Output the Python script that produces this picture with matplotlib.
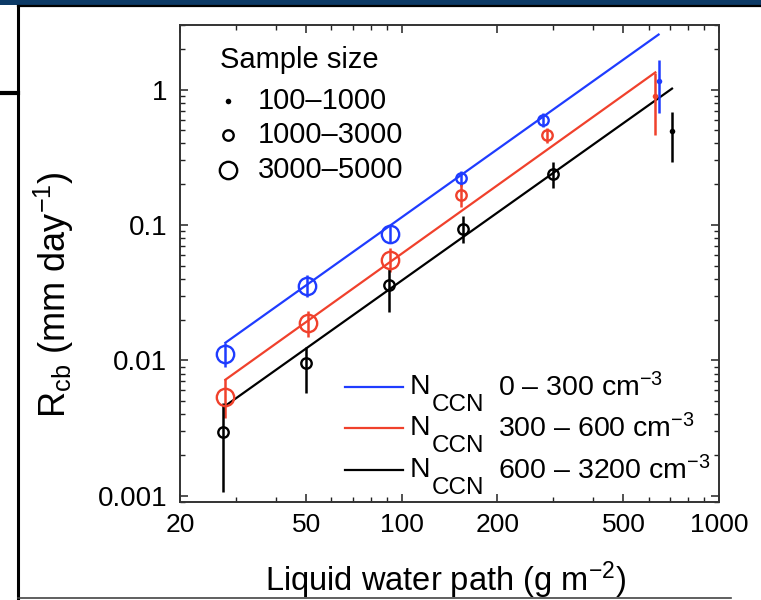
import matplotlib
matplotlib.use('Agg')
import matplotlib.pyplot as plt
from matplotlib.lines import Line2D
from matplotlib.patches import Rectangle

plt.rcParams['font.family'] = ['Liberation Sans', 'DejaVu Sans']
plt.rcParams['mathtext.fontset'] = 'custom'
plt.rcParams['mathtext.rm'] = 'Liberation Sans'
plt.rcParams['mathtext.it'] = 'Liberation Sans:italic'
plt.rcParams['mathtext.bf'] = 'Liberation Sans:bold'
plt.rcParams['mathtext.default'] = 'regular'

# ---------------- data ----------------
series_ranges = ['0 – 300', '300 – 600', '600 – 3200']
series_colors = ['#1f3cff', '#f0412c', '#000000']

# sample size class per point: 0 = 100-1000, 1 = 1000-3000, 2 = 3000-5000
blue_x = [27.8, 50.3, 92, 154, 279, 645]
blue_y = [0.0112, 0.0356, 0.0863, 0.224, 0.600, 1.166]
blue_lo = [0.0090, 0.0295, 0.0740, 0.195, 0.533, 0.676]
blue_hi = [0.0135, 0.0429, 0.1005, 0.252, 0.676, 1.667]
blue_cls = [2, 2, 2, 1, 1, 0]

red_x = [27.8, 50.5, 92, 154, 287, 630]
red_y = [0.00538, 0.0190, 0.0554, 0.1675, 0.465, 0.903]
red_lo = [0.00377, 0.0149, 0.0452, 0.1365, 0.406, 0.465]
red_hi = [0.00731, 0.0233, 0.0680, 0.2018, 0.524, 1.336]
red_cls = [2, 2, 2, 1, 1, 0]

black_x = [27.3, 50, 91, 156, 300, 711]
black_y = [0.00297, 0.0096, 0.0362, 0.0939, 0.239, 0.498]
black_lo = [0.00107, 0.00576, 0.0229, 0.0740, 0.189, 0.294]
black_hi = [0.00486, 0.0126, 0.0483, 0.1172, 0.294, 0.688]
black_cls = [1, 1, 1, 1, 1, 0]

# fitted power-law lines (end points)
blue_fit_x = [27.8, 645]
blue_fit_y = [0.0135, 2.55]
red_fit_x = [27.8, 630]
red_fit_y = [0.0072, 1.34]
black_fit_x = [27.8, 711]
black_fit_y = [0.00462, 1.017]

size_title = 'Sample size'
size_labels = ['100–1000', '1000–3000', '3000–5000']

x_ticks = [20, 50, 100, 200, 500, 1000]
x_ticklabels = ['20', '50', '100', '200', '500', '1000']
y_ticks = [0.001, 0.01, 0.1, 1]
y_ticklabels = ['0.001', '0.01', '0.1', '1']

# ---------------- figure ----------------
W, H = 761, 600
fig = plt.figure(figsize=(W / 100, H / 100), dpi=100)
AX_L, AX_R, AX_T, AX_B = 180, 719, 25, 502
ax = fig.add_axes([AX_L / W, (H - AX_B) / H, (AX_R - AX_L) / W, (AX_B - AX_T) / H])


def axfrac(px, py):
    return (px - AX_L) / (AX_R - AX_L), (AX_B - py) / (AX_B - AX_T)


ms_by_cls = {0: 4.0, 1: 7.5, 2: 12.5}

series = [
    (blue_x, blue_y, blue_lo, blue_hi, blue_cls, blue_fit_x, blue_fit_y),
    (red_x, red_y, red_lo, red_hi, red_cls, red_fit_x, red_fit_y),
    (black_x, black_y, black_lo, black_hi, black_cls, black_fit_x, black_fit_y),
]

for (xs, ys, lo, hi, cls, fx, fy), col in zip(series, series_colors):
    ax.plot(fx, fy, color=col, lw=1.6, zorder=2)
    for x, y, l, u, c in zip(xs, ys, lo, hi, cls):
        ax.plot([x, x], [l, u], color=col, lw=1.8, solid_capstyle='butt', zorder=3)
        if c == 0:
            ax.plot([x], [y], 'o', color=col, ms=ms_by_cls[c], mew=0, zorder=4)
        else:
            ax.plot([x], [y], 'o', mfc='none', mec=col, ms=ms_by_cls[c], mew=1.7, zorder=4)

ax.set_xscale('log')
ax.set_yscale('log')
ax.set_xlim(20, 1000)
ax.set_ylim(0.0009, 3.0)
ax.set_xticks(x_ticks)
ax.set_xticklabels(x_ticklabels)
ax.set_yticks(y_ticks)
ax.set_yticklabels(y_ticklabels)

ax.tick_params(which='both', direction='in', top=True, right=True, colors='#222222',
               labelcolor='black')
ax.tick_params(which='major', length=6, width=1.1)
ax.tick_params(axis='y', which='major', pad=9, labelsize=20)
ax.tick_params(axis='x', which='major', pad=8, labelsize=19)
ax.tick_params(which='minor', length=3.5, width=1.0)
for sp in ax.spines.values():
    sp.set_linewidth(1.4)
    sp.set_color('#333333')

ax.set_xlabel(r'Liquid water path (g m$^{-2}$)', fontsize=23.5, va='center')
ax.xaxis.set_label_coords(*axfrac(445, 580))
ax.set_ylabel(r'R$_{cb}$ (mm day$^{-1}$)', fontsize=26, va='center')
ax.yaxis.set_label_coords(*axfrac(54, 295))

# ---- sample size legend (built by hand) ----
tx, ty = axfrac(220, 60)
ax.text(tx, ty, size_title, transform=ax.transAxes, fontsize=21, ha='left', va='center')
size_styles = [
    dict(marker='o', color='k', ms=4.0, mew=0),
    dict(marker='o', mfc='none', mec='k', ms=7.5, mew=1.7),
    dict(marker='o', mfc='none', mec='k', ms=12.5, mew=1.7),
]
for lab, st, py in zip(size_labels, size_styles, [101, 135, 170]):
    mx, my = axfrac(228, py)
    ax.plot([mx], [my], ls='none', transform=ax.transAxes, clip_on=False, **st)
    lx, ly = axfrac(258, py)
    ax.text(lx, ly, lab, transform=ax.transAxes, fontsize=21, ha='left', va='center')

# ---- N_CCN legend (built by hand) ----
for rng, col, ly in zip(series_ranges, series_colors, [387, 428, 470]):
    x0, y0 = axfrac(345, ly)
    x1, _ = axfrac(403, ly)
    ax.plot([x0, x1], [y0, y0], color=col, lw=1.6, transform=ax.transAxes, clip_on=False)
    base = ly + 7
    nx, ny = axfrac(410, base)
    ax.text(nx, ny, 'N', transform=ax.transAxes, fontsize=20.5, ha='left', va='baseline')
    cx, cy = axfrac(432, base + 17)
    ax.text(cx, cy, 'CCN', transform=ax.transAxes, fontsize=17.5, ha='left', va='baseline')
    rx, ry = axfrac(498, base + 2)
    ax.text(rx, ry, rng + r' cm$^{-3}$', transform=ax.transAxes, fontsize=20.5,
            ha='left', va='baseline')

# screenshot frame decorations
fig.add_artist(Rectangle((0, 1 - 5 / H), 1, 5 / H, transform=fig.transFigure,
                         color='#0c3a66', lw=0))
fig.add_artist(Line2D([18 / W, 1], [1 - 6 / H, 1 - 6 / H], transform=fig.transFigure,
                      color='black', lw=1.6))
fig.add_artist(Line2D([18 / W, 18 / W], [1 - 6 / H, 2 / H], transform=fig.transFigure,
                      color='black', lw=2.2))
fig.add_artist(Line2D([0, 18 / W], [1 - 93 / H, 1 - 93 / H], transform=fig.transFigure,
                      color='black', lw=3))
fig.add_artist(Line2D([18 / W, 0.96], [2 / H, 2 / H], transform=fig.transFigure,
                      color='#444444', lw=1.2))

fig.savefig('out.png', dpi=100)
